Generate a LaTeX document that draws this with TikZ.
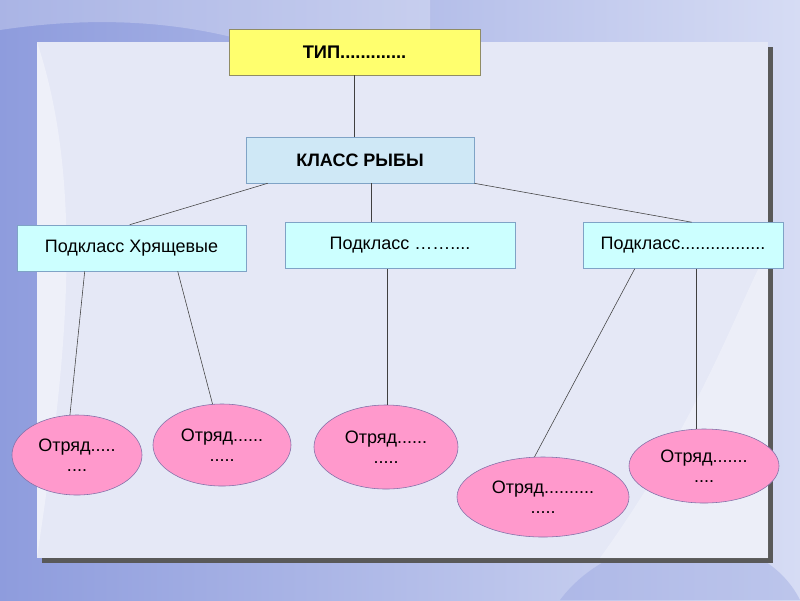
\documentclass[tikz,border=0pt]{standalone}
\usepackage{fontspec}
\setmainfont{Liberation Sans}
\usetikzlibrary{shapes.geometric}
\definecolor{bgdark}{HTML}{8E9CDD}
\definecolor{bglight}{HTML}{D6DCF4}
\definecolor{panelfill}{HTML}{E5E8F6}
\definecolor{tipfill}{HTML}{FFFF6E}
\definecolor{klassfill}{HTML}{CFE8F6}
\definecolor{subfill}{HTML}{CCFFFF}
\definecolor{otrfill}{HTML}{FF99CC}
\definecolor{boxline}{HTML}{7FA3C6}
\definecolor{otrline}{HTML}{8070A8}

\begin{document}
\begin{tikzpicture}[x=0.025cm,y=-0.025cm,
    font=\fontsize{12.8}{14.5}\selectfont,
    tipbox/.style={draw=gray!70!olive, fill=tipfill, minimum width=6.275cm, minimum height=1.15cm, font=\fontsize{13}{15}\selectfont\bfseries},
    klassbox/.style={draw=boxline, fill=klassfill, minimum width=5.7cm, minimum height=1.15cm, font=\fontsize{12.8}{15}\selectfont\bfseries},
    subbox/.style={draw=boxline, fill=subfill, minimum height=1.15cm},
    otr/.style={ellipse, draw=otrline, fill=otrfill, align=center, inner sep=0pt},
    link/.style={draw=black!75, thin}]
  \useasboundingbox (0,0) rectangle (800,600);
  % background
  \shade[left color=bgdark, right color=bglight] (0,0) rectangle (800,600);
  \fill[white, opacity=0.25] (0,30) .. controls (200,0) and (330,60) .. (430,130) -- (430,0) -- (0,0) -- cycle;
  \fill[bgdark, opacity=0.35] (560,600) .. controls (620,520) and (760,520) .. (800,600) -- cycle;
  % panel
  \fill[black!65] (42,47) rectangle (773,563);
  \fill[panelfill] (37,42) rectangle (768,558);
  \fill[white, opacity=0.35] (37,42) .. controls (90,200) and (60,400) .. (37,558) -- cycle;
  \fill[white, opacity=0.3] (600,558) .. controls (700,420) and (740,300) .. (768,250) -- (768,558) -- cycle;

  \node[tipbox] (tip) at (354.5,52) {ТИП.............};
  \node[klassbox] (klass) at (360,160) {КЛАСС РЫБЫ};
  \node[subbox, minimum width=5.725cm] (hr) at (131.5,248) {Подкласс Хрящевые};
  \node[subbox, minimum width=5.75cm] (mid) at (400,245.5) {Подкласс ……....};
  \node[subbox, minimum width=5cm] (right) at (683,245.5) {Подкласс.................};

  \node[otr, minimum width=3.25cm, minimum height=2cm] (o1) at (77,455) {Отряд.....\\....};
  \node[otr, minimum width=3.45cm, minimum height=2.05cm] (o2) at (222,445) {Отряд......\\.....};
  \node[otr, minimum width=3.6cm, minimum height=2.1cm] (o3) at (386,447) {Отряд......\\.....};
  \node[otr, minimum width=4.3cm, minimum height=2cm] (o4) at (543,497) {Отряд..........\\.....};
  \node[otr, minimum width=3.75cm, minimum height=1.85cm] (o5) at (704,466) {Отряд.......\\....};

  \draw[link] (tip.south) -- (tip.south |- klass.north);
  \draw[link] ([xshift=0.55cm]klass.south west) -- ([xshift=2.825cm]hr.north west);
  \draw[link] ([xshift=0.275cm]klass.south) -- ([xshift=0.275cm]klass.south |- mid.north);
  \draw[link] (klass.south east) -- ([xshift=2.725cm]right.north west);
  \draw[link] ([xshift=1.7cm]hr.south west) -- (o1.100);
  \draw[link] ([xshift=4.025cm]hr.south west) -- (o2.103);
  \draw[link] ([xshift=2.575cm]mid.south west) -- ([xshift=2.575cm]mid.south west |- o3.north);
  \draw[link] ([xshift=1.3cm]right.south west) -- (o4.102);
  \draw[link] ([xshift=2.85cm]right.south west) -- ([xshift=2.85cm]right.south west |- o5.north);
\end{tikzpicture}
\end{document}
